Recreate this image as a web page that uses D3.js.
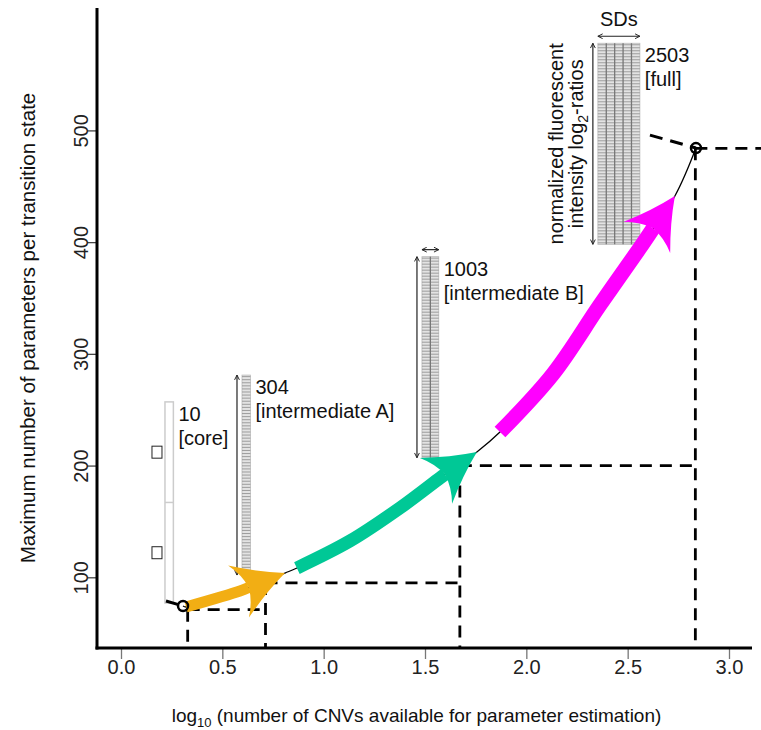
<!DOCTYPE html>
<html>
<head>
<meta charset="utf-8">
<script src="https://cdn.jsdelivr.net/npm/d3@7"></script>
<style>
  body { margin: 0; background: #fff; }
  text { font-family: "Liberation Sans", Arial, sans-serif; fill: #111; }
</style>
</head>
<body>
<svg id="chart"></svg>
<script>
// axis ticks
const xTicks = [0, 0.5, 1, 1.5, 2, 2.5, 3];
const yTicks = [100, 200, 300, 400, 500];

// step guides (log10 #CNVs, max parameters)
const stepX = [0.329, 0.713, 1.672, 2.834];
const stepY = [71, 95, 200, 484];

// matrix glyphs
const glyphCount = ["10", "304", "1003", "2503"];
const glyphTag = ["[core]", "[intermediate A]", "[intermediate B]", "[full]"];
const glyphX = [0.217, 0.597, 1.485, 2.353];
const glyphTop = [257, 281, 387, 578];
const glyphBottom = [77, 102, 207, 398];
const glyphCols = [1, 1, 2, 5];
const glyphRows = [2, 65, 67, 67];

// trajectory
const startPt = [0.306, 74.3];
const endPt = [2.837, 484.2];
const startTail = [0.222, 78.8];
const endTail = [2.610, 495.8];
const orangeArrow = [[0.321, 73.4], [0.587, 87.7], [0.809, 103.8]];
const greenArrow = [[0.868, 108.3], [1.130, 132.5], [1.376, 162.0], [1.574, 188.9], [1.756, 212.1]];
const magentaArrow = [[1.870, 230.0], [2.131, 281.9], [2.363, 343.7], [2.560, 394.7], [2.733, 441.3]];

const narrow = '"Liberation Sans Narrow", "Arial Narrow", "Liberation Sans", sans-serif';

const svg = d3.select("#chart").attr("width", 761).attr("height", 730);

const x = d3.scaleLinear().domain([0, 3]).range([121, 729]);
const y = d3.scaleLinear().domain([100, 500]).range([577.3, 130.4]);
const xMin = x.invert(97), xMax = x.invert(752), xEdge = x.invert(765);
const yMin = y.invert(648), yMax = y.invert(8);

const defs = svg.append("defs");
defs.append("marker")
    .attr("id", "tip")
    .attr("viewBox", "0 0 10 10")
    .attr("refX", 9).attr("refY", 5)
    .attr("markerWidth", 5).attr("markerHeight", 5)
    .attr("orient", "auto-start-reverse")
    .append("path")
    .attr("d", "M1,1 L9,5 L1,9")
    .attr("fill", "none").attr("stroke", "#222").attr("stroke-width", 1.6);

// dashed step lines
const dash = svg.append("g")
    .attr("stroke", "#000").attr("stroke-width", 2.8)
    .attr("stroke-dasharray", "12,8").attr("fill", "none");
stepX.forEach((sx, i) => {
    const nx = i < stepX.length - 1 ? stepX[i + 1] : xEdge;
    dash.append("line")
        .attr("x1", x(sx)).attr("x2", x(sx))
        .attr("y1", y(stepY[i])).attr("y2", y(yMin));
    dash.append("line")
        .attr("x1", x(sx)).attr("x2", x(nx))
        .attr("y1", y(stepY[i])).attr("y2", y(stepY[i]));
});

// axes
const axisX = svg.append("g")
    .attr("transform", `translate(0,${y(yMin)})`)
    .call(d3.axisBottom(x).tickValues(xTicks).tickFormat(d3.format(".1f")).tickSize(11).tickPadding(1));
axisX.select(".domain").remove();
axisX.selectAll(".tick line").attr("stroke", "#777").attr("stroke-width", 1.3);
axisX.selectAll(".tick text")
    .style("font-family", narrow).style("font-size", "20px").style("fill", "#222");

const axisY = svg.append("g")
    .attr("transform", `translate(${x(xMin)},0)`)
    .call(d3.axisLeft(y).tickValues(yTicks).tickSize(10));
axisY.select(".domain").remove();
axisY.selectAll(".tick line").attr("stroke", "#444").attr("stroke-width", 1.3);
axisY.selectAll(".tick text")
    .attr("transform", "rotate(-90)")
    .attr("x", 0).attr("y", -9).attr("dy", null)
    .attr("text-anchor", "middle")
    .style("font-family", narrow).style("font-size", "20px").style("fill", "#222");

svg.append("line")
    .attr("x1", x(xMin)).attr("x2", x(xMin))
    .attr("y1", y(yMax)).attr("y2", y(yMin) + 1.5)
    .attr("stroke", "#000").attr("stroke-width", 3);
svg.append("line")
    .attr("x1", x(xMin) - 1.5).attr("x2", x(xMax))
    .attr("y1", y(yMin)).attr("y2", y(yMin))
    .attr("stroke", "#000").attr("stroke-width", 3);

svg.append("text")
    .attr("transform", `translate(35,${(y(yMax) + y(yMin)) / 2}) rotate(-90)`)
    .attr("text-anchor", "middle")
    .style("font-family", narrow).style("font-size", "20.5px")
    .text("Maximum number of parameters per transition state");

const xt = svg.append("text")
    .attr("x", (x(xMin) + x(xMax)) / 2 - 8).attr("y", 722)
    .attr("text-anchor", "middle")
    .style("font-family", narrow).style("font-size", "19px");
xt.append("tspan").text("log");
xt.append("tspan").attr("baseline-shift", "-5").style("font-size", "13px").text("10");
xt.append("tspan").text(" (number of CNVs available for parameter estimation)");

// glyphs
const colW = 8.4;
const fs = "20px";
glyphX.forEach((gx, i) => {
    const x0 = x(gx), w = glyphCols[i] * colW;
    const top = y(glyphTop[i]), bot = y(glyphBottom[i]), h = bot - top;
    const g = svg.append("g");
    if (glyphRows[i] <= 2) {
        g.append("rect").attr("x", x0).attr("y", top).attr("width", w).attr("height", h)
            .attr("fill", "#fff").attr("stroke", "#ccc").attr("stroke-width", 1.5);
        d3.range(1, glyphRows[i]).forEach(r => {
            g.append("line").attr("x1", x0).attr("x2", x0 + w)
                .attr("y1", top + r * h / glyphRows[i]).attr("y2", top + r * h / glyphRows[i])
                .attr("stroke", "#ccc").attr("stroke-width", 1.5);
        });
        d3.range(glyphRows[i]).forEach(r => {
            g.append("rect")
                .attr("x", x0 - 13).attr("y", top + (r + 0.5) * h / glyphRows[i] - 6)
                .attr("width", 10).attr("height", 12)
                .attr("fill", "#fff").attr("stroke", "#222").attr("stroke-width", 1);
        });
    } else {
        g.append("rect").attr("x", x0).attr("y", top).attr("width", w).attr("height", h)
            .attr("fill", "#e3e3e3").attr("stroke", "#bbb").attr("stroke-width", 0.8);
        d3.range(glyphRows[i]).forEach(r => {
            const ry = top + (r + 0.5) * h / glyphRows[i];
            g.append("line").attr("x1", x0).attr("x2", x0 + w).attr("y1", ry).attr("y2", ry)
                .attr("stroke", "#959595").attr("stroke-width", 0.9);
        });
        d3.range(1, glyphCols[i]).forEach(c => {
            g.append("line").attr("x1", x0 + c * colW).attr("x2", x0 + c * colW)
                .attr("y1", top).attr("y2", bot)
                .attr("stroke", "#777").attr("stroke-width", 1.3);
        });
        g.append("line").attr("x1", x0 - 5).attr("x2", x0 - 5)
            .attr("y1", top).attr("y2", bot)
            .attr("stroke", "#222").attr("stroke-width", 1.2)
            .attr("marker-start", "url(#tip)").attr("marker-end", "url(#tip)");
        if (glyphCols[i] > 1) {
            g.append("line").attr("x1", x0).attr("x2", x0 + w)
                .attr("y1", top - 7).attr("y2", top - 7)
                .attr("stroke", "#222").attr("stroke-width", 1.2)
                .attr("marker-start", "url(#tip)").attr("marker-end", "url(#tip)");
        }
    }
    g.append("text").attr("x", x0 + w + 5).attr("y", top + 19)
        .style("font-size", fs).text(glyphCount[i]);
    g.append("text").attr("x", x0 + w + 5).attr("y", top + 43)
        .style("font-size", fs).text(glyphTag[i]);

    if (i === glyphX.length - 1) {
        g.append("text").attr("x", x0 + w / 2).attr("y", top - 17)
            .attr("text-anchor", "middle").style("font-size", fs).text("SDs");
        g.append("text")
            .attr("transform", `translate(${x0 - 35},${top + h / 2}) rotate(-90)`)
            .attr("text-anchor", "middle").style("font-size", fs)
            .text("normalized fluorescent");
        const t2 = g.append("text")
            .attr("transform", `translate(${x0 - 15},${top + h / 2}) rotate(-90)`)
            .attr("text-anchor", "middle").style("font-size", fs);
        t2.append("tspan").text("intensity log");
        t2.append("tspan").attr("baseline-shift", "-5").style("font-size", "14px").text("2");
        t2.append("tspan").text("-ratios");
    }
});

// thin trajectory line
const px = d => [x(d[0]), y(d[1])];
const trajectory = [startPt].concat(orangeArrow, greenArrow, magentaArrow, [endPt]);
svg.append("path")
    .attr("d", d3.line().curve(d3.curveCatmullRom)(trajectory.map(px)))
    .attr("fill", "none").attr("stroke", "#000").attr("stroke-width", 1.3);

[[startTail, startPt], [endTail, endPt]].forEach(([a, b]) => {
    svg.append("line")
        .attr("x1", x(a[0])).attr("y1", y(a[1])).attr("x2", x(b[0])).attr("y2", y(b[1]))
        .attr("stroke", "#000").attr("stroke-width", 3).attr("stroke-dasharray", "13,8");
});

function drawArrow(pts, color, width) {
    const p = pts.map(px);
    const tip = p[p.length - 1], prev = p[p.length - 2];
    let dx = tip[0] - prev[0], dy = tip[1] - prev[1];
    const len = Math.hypot(dx, dy);
    dx /= len; dy /= len;
    const nx = -dy, ny = dx;
    const L = 50, Wd = 28, notch = 0.78 * L;
    const base = [tip[0] - L * dx, tip[1] - L * dy];
    const b1 = [base[0] + Wd * nx, base[1] + Wd * ny];
    const b2 = [base[0] - Wd * nx, base[1] - Wd * ny];
    const nt = [tip[0] - notch * dx, tip[1] - notch * dy];
    const shaft = p.slice(0, -1).concat([nt]);
    svg.append("path")
        .attr("d", d3.line().curve(d3.curveCatmullRom)(shaft))
        .attr("fill", "none").attr("stroke", color).attr("stroke-width", width);
    const c1 = [(tip[0] + b1[0]) / 2 - 3 * nx, (tip[1] + b1[1]) / 2 - 3 * ny];
    const c2 = [(tip[0] + b2[0]) / 2 + 3 * nx, (tip[1] + b2[1]) / 2 + 3 * ny];
    const c3 = [(b1[0] + nt[0]) / 2 + 4 * dx, (b1[1] + nt[1]) / 2 + 4 * dy];
    const c4 = [(b2[0] + nt[0]) / 2 + 4 * dx, (b2[1] + nt[1]) / 2 + 4 * dy];
    const path = d3.path();
    path.moveTo(tip[0], tip[1]);
    path.quadraticCurveTo(c1[0], c1[1], b1[0], b1[1]);
    path.quadraticCurveTo(c3[0], c3[1], nt[0], nt[1]);
    path.quadraticCurveTo(c4[0], c4[1], b2[0], b2[1]);
    path.quadraticCurveTo(c2[0], c2[1], tip[0], tip[1]);
    path.closePath();
    svg.append("path").attr("d", path.toString()).attr("fill", color);
}

drawArrow(orangeArrow, "#f2ae14", 11);
drawArrow(greenArrow, "#00c896", 13);
drawArrow(magentaArrow, "#ff00ff", 15);

[startPt, endPt].forEach(d => {
    svg.append("circle").attr("cx", x(d[0])).attr("cy", y(d[1])).attr("r", 5)
        .attr("fill", "none").attr("stroke", "#000").attr("stroke-width", 2.5);
});
</script>
</body>
</html>
